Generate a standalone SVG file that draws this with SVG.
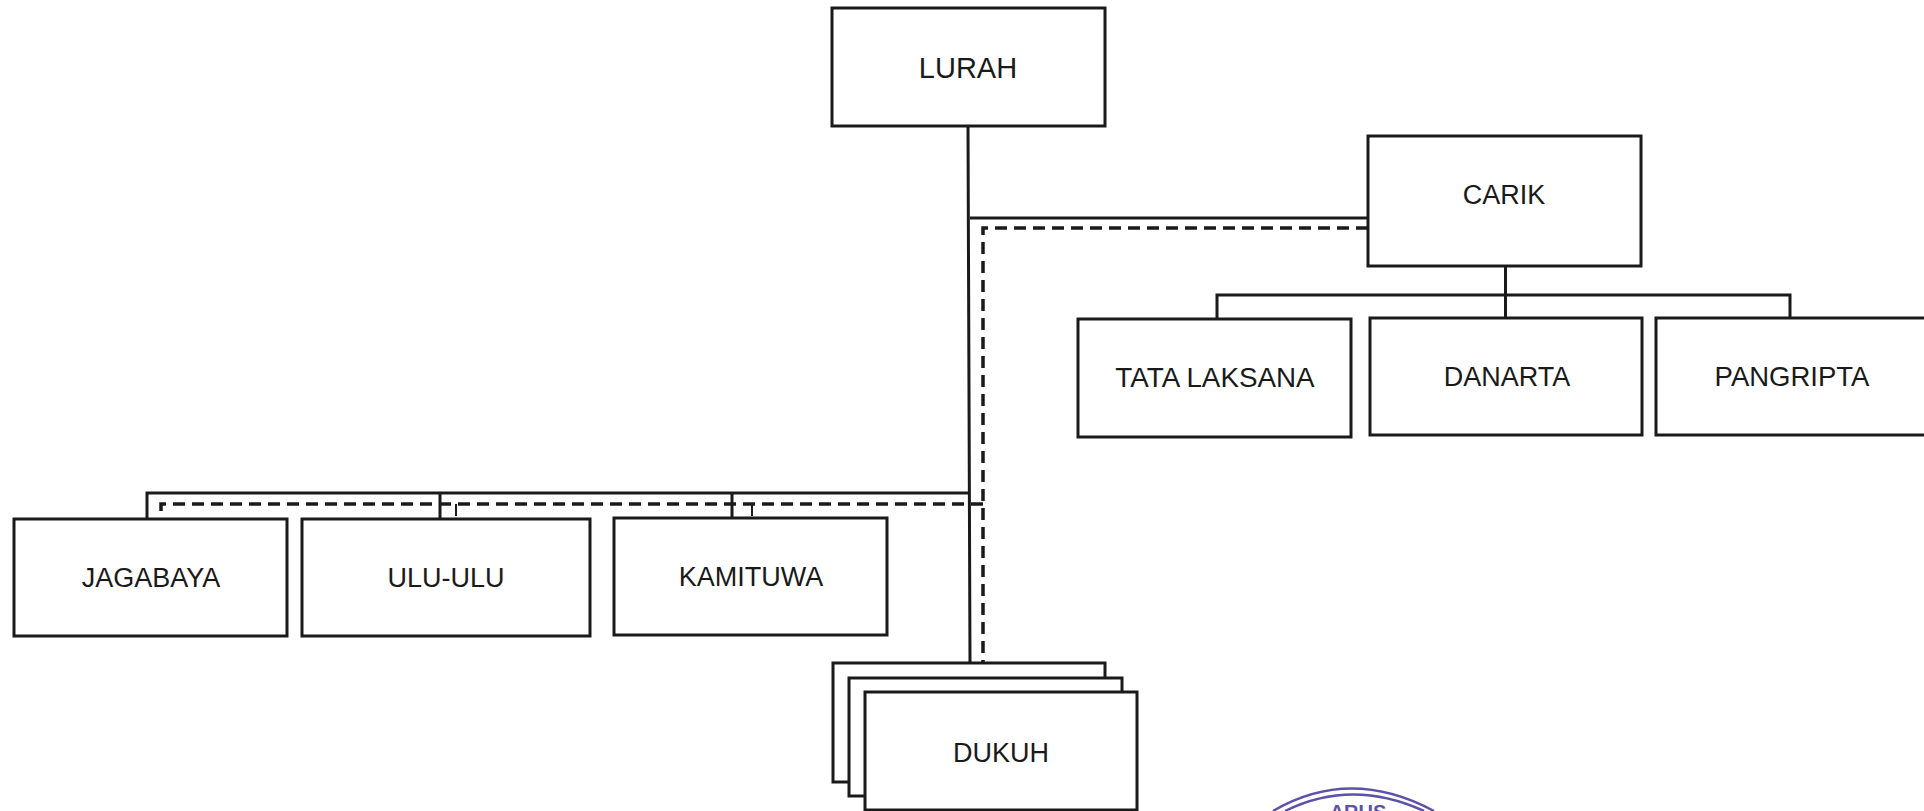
<svg xmlns="http://www.w3.org/2000/svg" width="1924" height="811" viewBox="0 0 1924 811">
<style>
.box{fill:#fff;stroke:#1a1a1a;stroke-width:3}
.lbl{font-family:"Liberation Sans",Arial,sans-serif;font-size:27px;fill:#1a1a1a;text-anchor:middle}
.solid{fill:none;stroke:#1a1a1a;stroke-width:3}
.dash{fill:none;stroke:#1a1a1a;stroke-width:3.500;stroke-dasharray:12 7}
.stamp{fill:none;stroke:#5c52ab;stroke-width:2.500}
.stamptext{font-family:"Liberation Sans",Arial,sans-serif;font-size:20px;font-weight:bold;fill:#5c52ab;text-anchor:middle}
</style>
<rect width="1924" height="811" fill="#fff"/>
<g id="connectors">
<path class="solid" d="M968 126L970 663M970 218H1368M970 493H147V519M440 493V519M732 493V519"/>
<path class="dash" d="M1368 228H983V663"/>
<path class="dash" d="M983 504H161V518"/>
<path class="solid" style="stroke-width:2" d="M456 504V516M752 504V516"/>
<path class="solid" d="M1505.500 266V318M1217 318V295H1790V318"/>
</g>
<g id="lurah"><rect class="box" x="832" y="8" width="273" height="118"/><text class="lbl" x="968" y="78" style="font-size:29px">LURAH</text></g>
<g id="carik"><rect class="box" x="1368" y="136" width="273" height="130"/><text class="lbl" x="1504" y="204">CARIK</text></g>
<g id="tata-laksana"><rect class="box" x="1078" y="319" width="273" height="118"/><text class="lbl" x="1215" y="387" style="font-size:27.800px">TATA LAKSANA</text></g>
<g id="danarta"><rect class="box" x="1370" y="318" width="272" height="117"/><text class="lbl" x="1507" y="386">DANARTA</text></g>
<g id="pangripta"><rect class="box" x="1656" y="318" width="272" height="117"/><text class="lbl" x="1792" y="386" style="font-size:27.500px">PANGRIPTA</text></g>
<g id="jagabaya"><rect class="box" x="14" y="519" width="273" height="117"/><text class="lbl" x="151" y="587">JAGABAYA</text></g>
<g id="ulu-ulu"><rect class="box" x="302" y="519" width="288" height="117"/><text class="lbl" x="446" y="587">ULU-ULU</text></g>
<g id="kamituwa"><rect class="box" x="614" y="518" width="273" height="117"/><text class="lbl" x="751" y="586">KAMITUWA</text></g>
<g id="dukuh">
<rect class="box" x="833" y="663" width="272" height="119"/>
<rect class="box" x="849" y="678" width="273" height="118"/>
<rect class="box" x="865" y="692" width="272" height="118"/>
<text class="lbl" x="1001" y="762">DUKUH</text>
</g>
<g id="stamp">
<path class="stamp" d="M1273 811Q1350 766 1434 811"/>
<path class="stamp" d="M1285 811Q1352 778 1424 811"/>
<text class="stamptext" x="1358" y="819">ARUS</text>
</g>
</svg>
